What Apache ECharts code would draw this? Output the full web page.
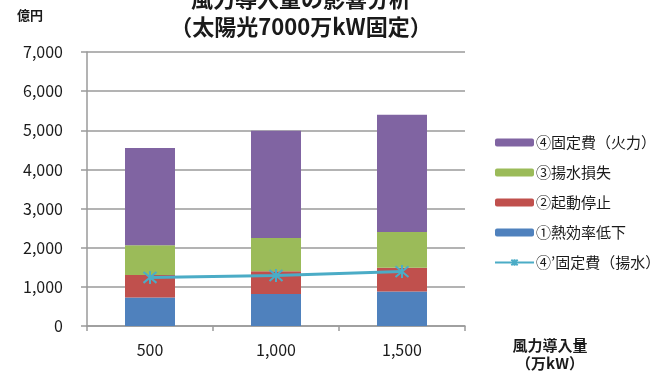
<!DOCTYPE html>
<html>
<head>
<meta charset="utf-8">
<script src="https://cdn.jsdelivr.net/npm/echarts@6/dist/echarts.min.js"></script>
<style>
  html, body { margin: 0; padding: 0; background: #fff; }
  #chart { width: 669px; height: 374px; }
</style>
</head>
<body>
<div id="chart"></div>
<script>
// 風力導入量 (万kW) ごとの費用内訳 (億円)
const categories = ['500', '1,000', '1,500'];
const thermalEfficiency = [730, 820, 880];   // ①熱効率低下
const startStop = [570, 580, 610];           // ②起動停止
const pumpingLoss = [760, 850, 910];         // ③揚水損失
const fixedThermal = [2490, 2740, 3000];     // ④固定費（火力）
const fixedPumped = [1240, 1290, 1390];      // ④’固定費（揚水）
const yTicks = [0, 1000, 2000, 3000, 4000, 5000, 6000, 7000];

const FONT = "'Noto Sans CJK JP', 'Noto Sans', sans-serif";
const TEXT = '#1a1a1a';
const AXIS = '#9a9a9a';

// asterisk marker drawn as strokes
const starMark = 'path://M0,0L10,10M10,0L0,10M5,-1L5,11';

const chart = echarts.init(document.getElementById('chart'), null, { renderer: 'canvas' });

function barSeries(name, data, color) {
  return {
    name: name,
    type: 'bar',
    stack: 'cost',
    barWidth: 50,
    data: data,
    itemStyle: { color: color },
    emphasis: { disabled: true }
  };
}

chart.setOption({
  animation: false,
  textStyle: { fontFamily: FONT },
  title: {
    text: '風力導入量の影響分析\n（太陽光7000万kW固定）',
    left: 296,
    top: -20,
    textAlign: 'center',
    textStyle: {
      fontFamily: FONT,
      fontSize: 22,
      fontWeight: 'bold',
      lineHeight: 28,
      color: TEXT
    }
  },
  grid: { left: 87, right: 204, top: 52, bottom: 48 },
  legend: {
    orient: 'vertical',
    left: 494,
    top: 134,
    padding: 0,
    itemWidth: 39,
    itemHeight: 8,
    itemGap: 13,
    data: ['④固定費（火力）', '③揚水損失', '②起動停止', '①熱効率低下', '④’固定費（揚水）'],
    textStyle: { fontFamily: FONT, fontSize: 15, lineHeight: 17, color: TEXT, padding: [0, 0, 0, -3] }
  },
  xAxis: {
    type: 'category',
    data: categories,
    name: '風力導入量\n（万kW）',
    nameLocation: 'end',
    nameGap: 85,
    nameTextStyle: {
      fontFamily: FONT,
      fontSize: 15,
      fontWeight: 'bold',
      lineHeight: 18,
      color: TEXT,
      align: 'center',
      verticalAlign: 'top',
      padding: [10, 0, 0, 0]
    },
    axisLine: { lineStyle: { color: AXIS, width: 1.5 } },
    axisTick: { show: true, length: 5, lineStyle: { color: AXIS, width: 1.5 } },
    axisLabel: { fontFamily: FONT, fontSize: 16, color: TEXT, margin: 16 }
  },
  yAxis: {
    type: 'value',
    min: yTicks[0],
    max: yTicks[yTicks.length - 1],
    interval: 1000,
    name: '億円',
    nameLocation: 'end',
    nameGap: 37,
    nameTextStyle: {
      fontFamily: FONT,
      fontSize: 13,
      fontWeight: 'bold',
      color: TEXT,
      align: 'right',
      verticalAlign: 'middle',
      padding: [0, 44, 0, 0]
    },
    axisLine: { show: true, lineStyle: { color: AXIS, width: 1.5 } },
    axisTick: { show: true, length: 6, lineStyle: { color: AXIS, width: 1.5 } },
    splitLine: { lineStyle: { color: AXIS, width: 1.5 } },
    axisLabel: {
      fontFamily: FONT,
      fontSize: 16,
      color: TEXT,
      margin: 24,
      formatter: function (v) { return v.toLocaleString('en-US'); }
    }
  },
  series: [
    barSeries('①熱効率低下', thermalEfficiency, '#4f81bd'),
    barSeries('②起動停止', startStop, '#c0504d'),
    barSeries('③揚水損失', pumpingLoss, '#9bbb59'),
    barSeries('④固定費（火力）', fixedThermal, '#8064a2'),
    {
      name: '④’固定費（揚水）',
      type: 'line',
      data: fixedPumped,
      symbol: starMark,
      symbolSize: 13,
      lineStyle: { color: '#4bacc6', width: 3 },
      itemStyle: { color: '#4bacc6', borderColor: '#4bacc6', borderWidth: 2 },
      emphasis: { disabled: true },
      z: 5
    }
  ]
});
</script>
</body>
</html>
